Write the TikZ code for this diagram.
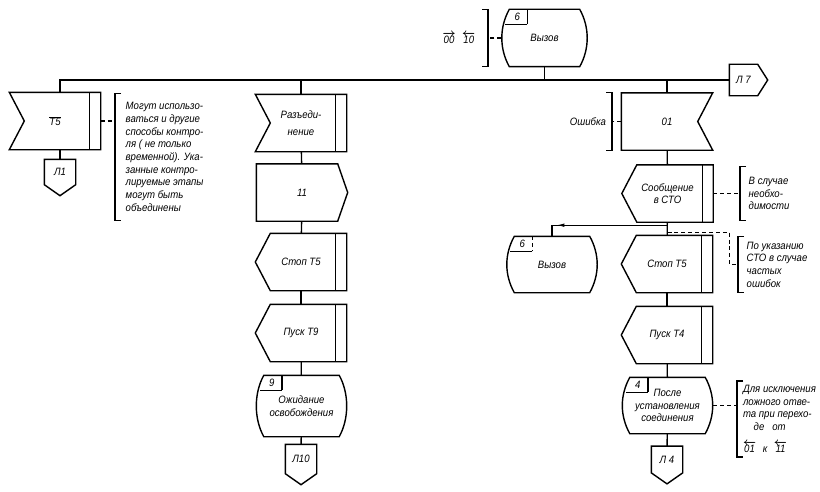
\documentclass[tikz,border=0pt]{standalone}
\usepackage{fontspec}
\setmainfont{Liberation Sans}[FakeStretch=0.9]
\usepackage{amsmath}
\usetikzlibrary{calc}
\usetikzlibrary{arrows.meta}

\tikzset{
  blk/.style={minimum width=67.5pt,minimum height=42pt,inner sep=0pt,align=center},
  conn/.style={minimum width=22.5pt,minimum height=18pt,inner sep=0pt},
  note/.style={align=left,inner xsep=6pt,inner ysep=0pt},
  dsh/.style={dash pattern=on 3pt off 2.2pt}
}
% signal in, notch on the left, bar on the right
\newcommand{\inshape}[1]{%
  \draw (#1.north west) -- (#1.north east) -- (#1.south east) -- (#1.south west) -- ($(#1.west)+(15,0)$) -- cycle;
  \draw ($(#1.north east)+(-11,0)$) -- ($(#1.south east)+(-11,0)$);}
% signal in, notch on the right
\newcommand{\inrshape}[1]{%
  \draw (#1.north west) -- (#1.north east) -- ($(#1.east)+(-15,0)$) -- (#1.south east) -- (#1.south west) -- cycle;}
% signal out
\newcommand{\outshape}[1]{%
  \draw (#1.north west) -- ($(#1.north east)+(-10,0)$) -- (#1.east) -- ($(#1.south east)+(-10,0)$) -- (#1.south west) -- cycle;}
% task, point on the left, bar on the right
\newcommand{\taskshape}[1]{%
  \draw ($(#1.north west)+(15,0)$) -- (#1.north east) -- (#1.south east) -- ($(#1.south west)+(15,0)$) -- (#1.west) -- cycle;
  \draw ($(#1.north east)+(-11,0)$) -- ($(#1.south east)+(-11,0)$);}
% state
\newcommand{\stateshape}[1]{%
  \draw ($(#1.north west)+(8,0)$) -- ($(#1.north east)+(-8,0)$)
    .. controls ($(#1.north east)+(2,18)$) and ($(#1.south east)+(2,-18)$) .. ($(#1.south east)+(-8,0)$)
    -- ($(#1.south west)+(8,0)$)
    .. controls ($(#1.south west)+(-2,-18)$) and ($(#1.north west)+(-2,18)$) .. ($(#1.north west)+(8,0)$) -- cycle;}
% number of the state
\newcommand{\numbox}[3]{%
  \draw[#3] ($(#1.north west)+(26,0)$) -- ($(#1.north west)+(26,15)$);
  \draw ($(#1.north west)+(26,15)$) -- ($(#1.north west)+(4,15)$);
  \node[inner sep=0pt] (#1n) at ($(#1.north west)+(16,7.5)$) {#2};}
% page connectors
\newcommand{\connshape}[1]{%
  \draw (#1.north west) -- (#1.north east) -- (#1.south east) -- ($(#1.south)+(0,11)$) -- (#1.south west) -- cycle;}
\newcommand{\connrshape}[1]{%
  \draw (#1.north west) -- (#1.north east) -- ($(#1.east)+(10,0)$) -- (#1.south east) -- (#1.south west) -- cycle;}
% comment brackets
\newcommand{\lbrk}[1]{%
  \draw ($(#1.north west)+(6,0)$) -- (#1.north west) -- (#1.south west) -- ($(#1.south west)+(6,0)$);}
\newcommand{\rbrk}[1]{%
  \draw ($(#1.north east)+(-6,0)$) -- (#1.north east) -- (#1.south east) -- ($(#1.south east)+(-6,0)$);}
\newcommand{\ovr}[1]{$\boldsymbol{\overrightarrow{\mbox{#1}}}$}
\newcommand{\ovl}[1]{$\boldsymbol{\overleftarrow{\mbox{#1}}}$}

\begin{document}
\begin{tikzpicture}[x=0.75pt,y=0.75pt,yscale=-1,xscale=1,line width=1.05pt,font=\itshape\fontsize{8}{9.5}\selectfont]
\useasboundingbox (0,0) rectangle (820,492);

% top state
\node[blk,minimum width=63.75pt] (call) at (544.5,38) {Вызов};
\node[note,anchor=east,minimum height=42pt,inner xsep=9pt] (cnote) at (488,38) {\ovr{00}\hspace{5pt}\ovl{10}};
\node[conn,minimum width=20.25pt,minimum height=22.5pt] (l7) at (743.5,80) {Л 7};

% left branch
\node[blk] (t5) at (55,121) {$\overline{\mbox{T5}}$};
\node[conn] (l1) at (60,172) {Л1};
\node[note,anchor=west,minimum height=94.5pt,inner xsep=7.5pt] (t5note) at (115,157) {Могут использо-\\ваться и другие\\способы контро-\\ля ( не только\\временной). Ука-\\занные контро-\\лируемые этапы\\могут быть\\объединены};

% middle branch
\node[blk] (disc) at (301,123) {Разъеди-\\[3pt]нение};
\node[blk] (sig11) at (302,192.5) {11};
\node[blk] (stopa) at (301,262) {Стоп Т5};
\node[blk] (startb) at (301,333) {Пуск Т9};
\node[blk,minimum height=45pt] (waitrel) at (301.5,406) {Ожидание\\освобождения};
\node[conn,minimum height=21pt] (l10) at (301,459) {Л10};

% right branch
\node[blk] (err) at (667,121.5) {01};
\node[note,anchor=east,minimum height=42.75pt,inner xsep=4pt] (errnote) at (612,121.5) {Ошибка};
\node[blk] (msg) at (667.5,193.5) {Сообщение\\в СТО};
\node[note,anchor=west,minimum height=39.75pt] (msgnote) at (740,193.5) {В случае\\необхо-\\димости};
\node[blk] (stopc) at (667,264) {Стоп Т5};
\node[note,anchor=west,minimum height=41.25pt] (stopnote) at (738,264.5) {По указанию\\СТО в случае\\частых\\ошибок};
\node[blk,minimum height=41.25pt] (call2) at (552,264.5) {Вызов};
\node[blk] (startd) at (667,335) {Пуск Т4};
\node[blk,minimum height=41.25pt] (setup) at (667.5,405.5) {После\\установления\\соединения};
\node[note,anchor=west,minimum height=56pt,inner xsep=4pt] (setupnote) at (737,419) {Для исключения\\ложного отве-\\та при перехо-\\\hspace*{8pt}де\hspace{6pt}от\\[7pt]\ovl{01}\hspace{5pt}к\hspace{5pt}\ovl{11}};
\node[conn,minimum height=19pt] (l4) at (667,459.5) {Л 4};

% shapes
\stateshape{call} \numbox{call}{6}{}
\connrshape{l7}
\inshape{t5} \connshape{l1}
\inshape{disc} \outshape{sig11} \taskshape{stopa} \taskshape{startb}
\stateshape{waitrel} \numbox{waitrel}{9}{} \connshape{l10}
\inrshape{err} \taskshape{msg} \taskshape{stopc} \taskshape{startd}
\stateshape{call2} \numbox{call2}{6}{dsh}
\stateshape{setup} \numbox{setup}{4}{} \connshape{l4}
\lbrk{t5note} \lbrk{msgnote} \lbrk{stopnote} \lbrk{setupnote}
\rbrk{cnote} \rbrk{errnote}

% bus and flow lines
\draw (l1.north |- t5.north) |- (l7.west);
\draw (call.south) -- (call.south |- l7.west);
\draw (disc.north |- l7.west) -- (disc.north);
\draw (err.north |- l7.west) -- (err.north);
\draw (l1.north |- t5.south) -- (l1.north);
\draw (disc) -- (sig11);
\draw (sig11) -- (stopa);
\draw (stopa) -- (startb);
\draw (startb) -- (waitrel);
\draw (waitrel) -- (l10);
\draw (err) -- (msg);
\draw (msg) -- (stopc);
\draw (stopc) -- (startd);
\draw (startd) -- (setup);
\draw (setup) -- (l4);
\coordinate (br) at ($(msg.south)+(0,3)$);
\draw (br) -- (br -| call2.north) -- (call2.north);
\draw[-{Latex[length=7pt,width=2.6pt]}] (br) -- ($(br -| call2.north)+(3,0)$);

% comment lines
\draw[dsh] (call.west) -- (call.west -| cnote.east);
\draw[dsh] (t5.east) -- (t5.east -| t5note.west);
\draw[dsh] (err.west) -- (err.west -| errnote.east);
\draw[dsh] (msg.east) -- (msg.east -| msgnote.west);
\coordinate (brd) at ($(msg.south)+(0,10)$);
\draw[dsh] (brd) -- ++(62,0) |- (stopnote.west);
\draw[dsh] (setup.east) -- (setup.east -| setupnote.west);

\end{tikzpicture}
\end{document}
